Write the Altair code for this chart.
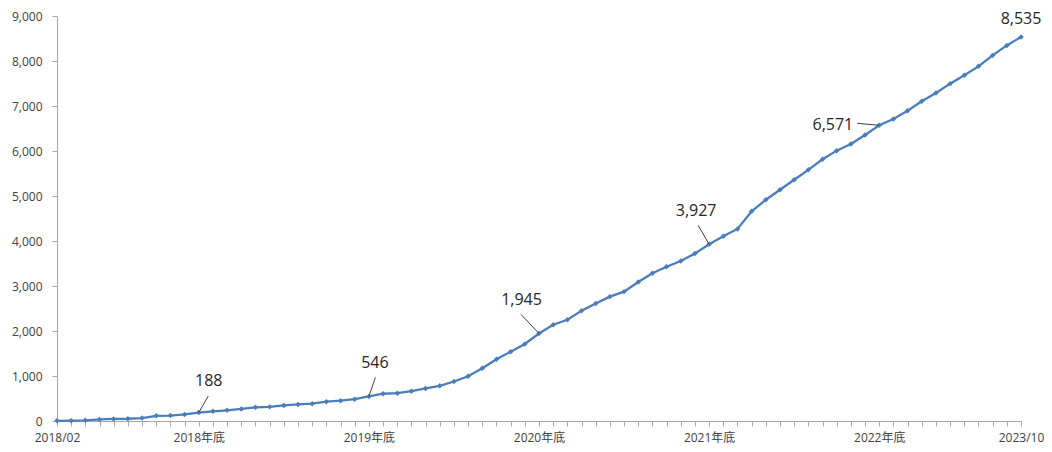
import altair as alt
import pandas as pd

# ---- data ----
months = []
for y in range(2018, 2024):
    for m in range(1, 13):
        s = f"{y}/{m:02d}"
        if "2018/02" <= s <= "2023/10":
            months.append(s)

values = [5, 8, 15, 35, 45, 50, 65, 115, 120, 145, 188,
          215, 238, 268, 305, 314, 345, 368, 384, 430, 452, 484, 546,
          606, 619, 663, 723, 783, 878, 995, 1172, 1371, 1541, 1712, 1945,
          2138, 2249, 2448, 2609, 2764, 2875, 3089, 3282, 3428, 3554, 3724, 3927,
          4107, 4268, 4659, 4918, 5139, 5360, 5581, 5816, 6008, 6157, 6355, 6571,
          6709, 6893, 7107, 7291, 7497, 7682, 7881, 8125, 8346, 8535]

tick_months = ["2018/02", "2018/12", "2019/12", "2020/12", "2021/12", "2022/12", "2023/10"]
tick_texts = ["2018/02", "2018年底", "2019年底", "2020年底", "2021年底", "2022年底", "2023/10"]

y_ticks = [0, 1000, 2000, 3000, 4000, 5000, 6000, 7000, 8000, 9000]

df = pd.DataFrame({"month": months, "value": values})

FONT = "Open Sans, Noto Sans CJK SC, sans-serif"
BLUE = "#4a7ebb"
AXIS_GRAY = "#a6a6a6"

label_expr = " : ".join(f"datum.value == '{m}' ? '{t}'" for m, t in zip(tick_months, tick_texts)) + " : ''"

x_enc = alt.X("month:O", sort=months,
              scale=alt.Scale(type="point", padding=0),
              axis=alt.Axis(title=None, labelExpr=label_expr, labelAngle=0, labelOverlap=False,
                            labelFont=FONT, labelFontSize=12, labelColor="#404040",
                            labelPadding=6, tickSize=5, tickColor=AXIS_GRAY,
                            domainColor=AXIS_GRAY, grid=False))
y_enc = alt.Y("value:Q",
              scale=alt.Scale(domain=[0, 9000], nice=False),
              axis=alt.Axis(title=None, values=y_ticks, format=",d", labelFont=FONT,
                            labelFontSize=12, labelColor="#404040", labelPadding=10,
                            tickSize=5, tickColor=AXIS_GRAY, domainColor=AXIS_GRAY, grid=False))

base = alt.Chart(df)

line = base.mark_line(color=BLUE, strokeWidth=2.3).encode(x=x_enc, y=y_enc)
pts = base.mark_point(shape="diamond", filled=True, size=30, color=BLUE, opacity=1).encode(
    x=x_enc, y=y_enc)

# annotation styles: (month, text dx, text dy, align, leader end dx, leader end dy)
annot_style = [
    ("2018/12", 10, -32, "center", 9.5, -16.5),
    ("2019/12", 6, -33, "center", 6.5, -19),
    ("2020/12", -17.5, -33.5, "center", -18, -19),
    ("2021/12", -13, -33, "center", -11, -19),
    ("2022/12", -26, 0, "right", -22, -2),
    ("2023/10", 0, -18, "center", None, None),
]

layers = [line, pts]
for m, tdx, tdy, al, ldx, ldy in annot_style:
    sub = base.transform_filter(alt.datum.month == m)
    layers.append(sub.mark_text(dx=tdx, dy=tdy, align=al, baseline="middle", font=FONT,
                                fontSize=16, color="#262626").encode(
        x=x_enc, y=y_enc, text=alt.Text("value:Q", format=",")))
    if ldx is not None:
        layers.append(sub.mark_rule(color="#404040", strokeWidth=1, x2Offset=ldx, y2Offset=ldy).encode(
            x=x_enc, y=y_enc, x2=alt.X2("month"), y2=alt.Y2("value")))

chart = alt.layer(*layers).properties(
    width=964, height=405,
    background="white",
    autosize=alt.AutoSizeParams(type="none"),
    padding={"left": 49, "top": 8, "right": 23, "bottom": 23},
).configure_view(stroke=None)

chart.save("out.html", embed_options={"renderer": "svg", "actions": False})
